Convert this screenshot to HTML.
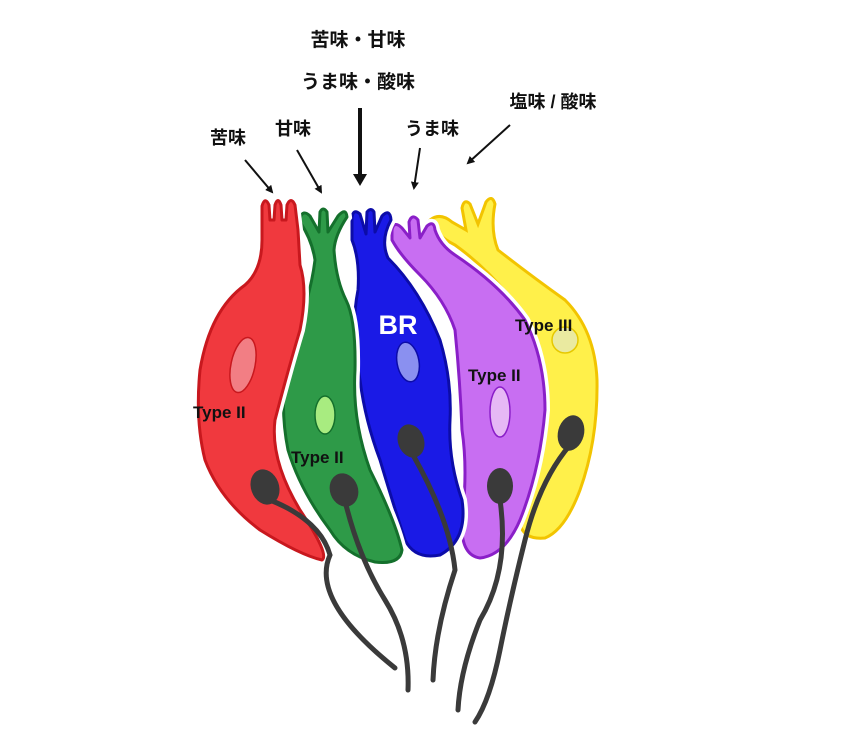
<!DOCTYPE html>
<html><head><meta charset="utf-8"><style>
html,body{margin:0;padding:0;background:#fff;}
svg{display:block;}
text{font-family:"Liberation Sans","Noto Sans CJK JP",sans-serif;font-weight:bold;}
</style></head><body>
<svg width="860" height="734" viewBox="0 0 860 734" xmlns="http://www.w3.org/2000/svg">
<defs>
<marker id="ah" markerWidth="8" markerHeight="8" refX="6" refY="4" orient="auto" markerUnits="userSpaceOnUse"><path d="M0,0 L8,4 L0,8 Z" fill="#111"/></marker>
<marker id="ah2" markerWidth="12" markerHeight="14" refX="8" refY="7" orient="auto" markerUnits="userSpaceOnUse"><path d="M0,0 L12,7 L0,14 Z" fill="#111"/></marker>
<path id="cy" d="M430,220 Q440,212 452,222 L466,230 L462,208 Q464,198 470,204 L478,224 L486,202 Q492,194 495,204 Q490,230 498,250 Q530,275 565,300 Q595,330 597,380 Q598,440 580,490 Q565,530 545,538 Q525,540 520,525 Q540,470 545,410 Q545,350 520,310 Q490,270 455,245 Q435,235 430,220 Z"/>
<path id="cp" d="M392,230 Q394,220 402,228 L410,238 L409,222 Q412,213 418,220 L420,238 L427,226 Q434,220 435,230 Q440,245 455,255 Q500,285 525,320 Q545,360 545,410 Q540,470 520,520 Q505,555 480,558 Q460,555 462,520 Q468,470 462,430 Q460,380 455,330 Q445,300 420,275 Q400,255 392,240 Z"/>
<path id="cb" d="M352,218 Q353,208 360,214 L366,234 L367,212 Q371,207 374,212 L375,232 L382,216 Q390,208 391,220 Q380,240 388,258 Q420,290 440,340 Q452,380 450,420 Q448,460 462,500 Q468,540 440,555 Q415,560 405,540 Q395,510 380,460 Q365,420 360,380 Q350,330 358,290 Q360,260 352,240 Z"/>
<path id="cg" d="M300,218 Q303,209 310,216 L319,232 L320,212 Q323,206 327,212 L328,232 L338,216 Q346,207 347,217 Q335,235 334,250 Q336,280 346,300 Q356,320 355,370 Q352,420 370,470 Q395,520 402,550 Q400,565 375,562 Q345,555 330,530 Q300,490 288,450 Q278,400 290,350 Q310,300 315,260 Q312,240 300,222 Z"/>
<path id="cr" d="M262,240 L262,206 Q265,196 269,205 L270,220 L274,220 L275,205 Q278,196 281,205 L282,220 L286,220 L287,205 Q291,196 295,205 L298,230 L300,265 Q308,290 300,330 Q288,370 275,420 Q270,460 300,510 Q330,555 322,560 Q300,555 260,530 Q220,500 205,460 Q195,420 200,370 Q210,310 245,285 Q262,270 262,240 Z"/>
</defs>
<!-- labels -->
<text x="358" y="46" font-size="19" text-anchor="middle" fill="#111">苦味・甘味</text>
<text x="358" y="88" font-size="19" text-anchor="middle" fill="#111">うま味・酸味</text>
<text x="228" y="144" font-size="18" text-anchor="middle" fill="#111">苦味</text>
<text x="293" y="135" font-size="18" text-anchor="middle" fill="#111">甘味</text>
<text x="432" y="135" font-size="18" text-anchor="middle" fill="#111">うま味</text>
<text x="553" y="108" font-size="18" text-anchor="middle" fill="#111">塩味 / 酸味</text>
<!-- arrows -->
<g stroke="#111" stroke-width="2" fill="none">
<line x1="245" y1="160" x2="272" y2="192" marker-end="url(#ah)"/>
<line x1="297" y1="150" x2="321" y2="192" marker-end="url(#ah)"/>
<line x1="360" y1="108" x2="360" y2="182" stroke-width="4" marker-end="url(#ah2)"/>
<line x1="420" y1="148" x2="414" y2="188" marker-end="url(#ah)"/>
<line x1="510" y1="125" x2="468" y2="163" marker-end="url(#ah)"/>
</g>
<!-- yellow -->
<use href="#cy" fill="#fff04a" stroke="#f2c400" stroke-width="3"/>
<ellipse cx="565" cy="340" rx="13" ry="13" fill="#eaeaa0" stroke="#e6c800" stroke-width="1.5"/>
<!-- purple -->
<use href="#cp" fill="none" stroke="#fff" stroke-width="10"/>
<use href="#cp" fill="#c86ef2" stroke="#8a1fc8" stroke-width="3" stroke-linejoin="round"/>
<ellipse cx="500" cy="412" rx="10" ry="25" fill="#e6b8f5" stroke="#8a1fc8" stroke-width="1.5"/>
<!-- blue -->
<use href="#cb" fill="none" stroke="#fff" stroke-width="10"/>
<use href="#cb" fill="#1a1ae6" stroke="#0c0ca8" stroke-width="3" stroke-linejoin="round"/>
<ellipse cx="408" cy="362" rx="11" ry="20" fill="#8a90f0" stroke="#0c0ca8" stroke-width="1.5" transform="rotate(-10 408 362)"/>
<!-- green -->
<use href="#cg" fill="none" stroke="#fff" stroke-width="10"/>
<use href="#cg" fill="#2e9a48" stroke="#14702c" stroke-width="3" stroke-linejoin="round"/>
<ellipse cx="325" cy="415" rx="10" ry="19" fill="#a8ec80" stroke="#14702c" stroke-width="1.5"/>
<!-- red -->
<use href="#cr" fill="none" stroke="#fff" stroke-width="10"/>
<use href="#cr" fill="#f0393e" stroke="#c8181e" stroke-width="3" stroke-linejoin="round"/>
<ellipse cx="243" cy="365" rx="12" ry="28" fill="#f27e84" stroke="#c8181e" stroke-width="1.5" transform="rotate(12 243 365)"/>
<!-- nerves -->
<g stroke="#3a3a3a" stroke-width="5" fill="none" stroke-linecap="round">
<path d="M270,500 Q320,520 330,555 Q310,600 395,668"/>
<path d="M346,505 Q360,560 385,600 Q410,640 408,690"/>
<path d="M413,455 Q450,520 455,570 Q435,630 433,680"/>
<path d="M500,500 Q510,570 480,620 Q460,670 458,710"/>
<path d="M570,445 Q540,480 525,540 Q510,600 500,650 Q490,700 475,722"/>
</g>
<g fill="#3a3a3a">
<ellipse cx="265" cy="487" rx="14" ry="18" transform="rotate(-20 265 487)"/>
<ellipse cx="344" cy="490" rx="14" ry="17" transform="rotate(-20 344 490)"/>
<ellipse cx="411" cy="441" rx="13" ry="17" transform="rotate(-20 411 441)"/>
<ellipse cx="500" cy="486" rx="13" ry="18"/>
<ellipse cx="571" cy="433" rx="13" ry="18" transform="rotate(15 571 433)"/>
</g>
<!-- type labels -->
<text x="398" y="334" font-size="27" fill="#fff" text-anchor="middle">BR</text>
<text x="193" y="418" font-size="17" fill="#111">Type II</text>
<text x="291" y="463" font-size="17" fill="#111">Type II</text>
<text x="515" y="331" font-size="17" fill="#111">Type III</text>
<text x="468" y="381" font-size="17" fill="#111">Type II</text>
</svg>
</body></html>
